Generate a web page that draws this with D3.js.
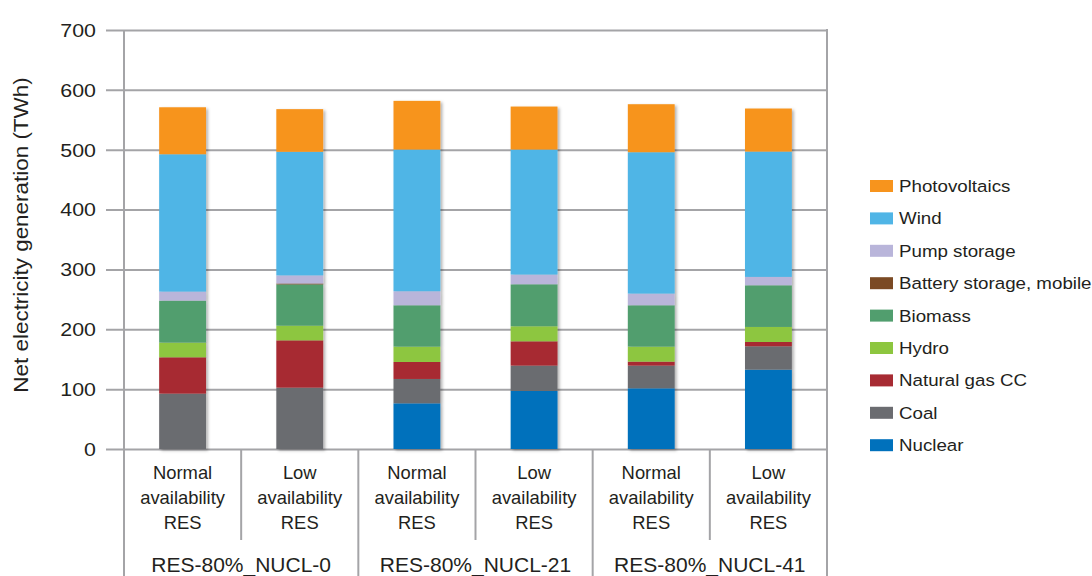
<!DOCTYPE html>
<html>
<head>
<meta charset="utf-8">
<script src="https://cdn.jsdelivr.net/npm/d3@7"></script>
<style>
  html, body { margin: 0; padding: 0; background: #fff; }
  svg { display: block; font-family: "Liberation Sans", Arial, sans-serif; }
</style>
</head>
<body>
<svg id="chart" width="1092" height="576"></svg>
<script>
// ---- Data ----
const scenarios = ["RES-80%_NUCL-0", "RES-80%_NUCL-21", "RES-80%_NUCL-41"];
const availability = ["Normal availability RES", "Low availability RES"];
const barIds = ["N0-normal", "N0-low", "N21-normal", "N21-low", "N41-normal", "N41-low"];
const seriesNames = ["Nuclear", "Coal", "Natural gas CC", "Hydro", "Biomass", "Battery storage, mobile", "Pump storage", "Wind", "Photovoltaics"];
const seriesColors = ["#0071bc", "#6b6c70", "#a72b33", "#8dc63f", "#519e6e", "#7b4a24", "#b9b5da", "#50b5e6", "#f7941d"];

const nuclear   = [0,     0,     76.3,  96.9,  101.4, 132.6];
const coal      = [92.5,  102.5, 40.7,  42.4,  37.9,  39.0];
const gas       = [60.7,  79.0,  28.4,  40.6,  6.7,   7.2];
const hydro     = [24.5,  24.5,  25.6,  25.1,  25.0,  25.1];
const biomass   = [70.2,  69.0,  69.1,  70.2,  69.1,  69.6];
const battery   = [0,     1.5,   0,     0,     0,     0];
const pump      = [15.0,  13.5,  23.4,  16.2,  19.5,  14.0];
const wind      = [229.5, 206.5, 236.8, 208.9, 236.2, 209.4];
const pv        = [78.5,  71.3,  81.3,  71.8,  80.2,  71.9];

const yTicks = [0, 100, 200, 300, 400, 500, 600, 700];
const yTitle = "Net electricity generation (TWh)";

(function () {
// ---- Build table ----
const seriesArrays = [nuclear, coal, gas, hydro, biomass, battery, pump, wind, pv];
const table = barIds.map((id, i) => {
  const row = { id };
  seriesNames.forEach((s, k) => row[s] = seriesArrays[k][i]);
  return row;
});

// ---- Layout ----
const svg = d3.select("#chart");
const pLeft = 124, pRight = 827, pTop = 30, pBottom = 449;
const gridColor = "#a4a4a7";
const textColor = "#231f20";
const STRETCH = 1.15;
function stretch(sel) {
  sel.each(function () {
    const w = this.getComputedTextLength();
    d3.select(this).attr("textLength", w * STRETCH).attr("lengthAdjust", "spacingAndGlyphs");
  });
}

const x = d3.scaleBand().domain(barIds).range([pLeft, pRight]).paddingInner(0.6).paddingOuter(0.3);
const y = d3.scaleLinear().domain([0, 700]).range([pBottom, pTop]);
const color = d3.scaleOrdinal().domain(seriesNames).range(seriesColors);

// Filter for subtle shadow
const defs = svg.append("defs");
const f = defs.append("filter").attr("id", "shadow").attr("x", "-20%").attr("y", "-5%").attr("width", "140%").attr("height", "115%");
f.append("feDropShadow").attr("dx", 2).attr("dy", 1.5).attr("stdDeviation", 1.5).attr("flood-color", "#000").attr("flood-opacity", 0.3);

// Gridlines (y axis)
const yAxis = d3.axisLeft(y).tickValues(yTicks).tickSize(-(pRight - 106)).tickPadding(10).tickFormat(d3.format("d"));
const yg = svg.append("g").attr("transform", `translate(106,0)`).call(yAxis);
yg.select(".domain").remove();
yg.selectAll(".tick line").attr("stroke", gridColor).attr("stroke-width", 2);
yg.selectAll(".tick text").attr("fill", textColor).attr("font-size", 18.6).attr("x", -10).attr("dy", "0.34em");
stretch(yg.selectAll(".tick text"));

// Left axis and right border
svg.append("line").attr("x1", pLeft).attr("x2", pLeft).attr("y1", pTop).attr("y2", 576).attr("stroke", gridColor).attr("stroke-width", 2);
svg.append("line").attr("x1", pRight).attr("x2", pRight).attr("y1", pTop - 1).attr("y2", 576).attr("stroke", gridColor).attr("stroke-width", 2);

// Category separators
barIds.forEach((id, i) => {
  if (i === 0) return;
  const sx = x(id) - (x.step() - x.bandwidth()) / 2;
  const long = i % 2 === 0;
  svg.append("line").attr("x1", sx).attr("x2", sx).attr("y1", pBottom).attr("y2", long ? 576 : 540)
    .attr("stroke", gridColor).attr("stroke-width", 2);
});

// Stacked bars
const stacked = d3.stack().keys(seriesNames)(table);
const barsG = svg.append("g").attr("filter", "url(#shadow)");
barsG.selectAll("g").data(stacked).join("g")
  .attr("fill", d => color(d.key))
  .selectAll("rect").data(d => d).join("rect")
  .attr("x", d => x(d.data.id))
  .attr("width", x.bandwidth())
  .attr("y", d => y(d[1]))
  .attr("height", d => Math.max(0, y(d[0]) - y(d[1])));

// Inner category labels
barIds.forEach((id, i) => {
  const lines = availability[i % 2].split(" ");
  const cx = x(id) + x.bandwidth() / 2;
  const t = svg.append("text").attr("text-anchor", "middle").attr("fill", textColor).attr("font-size", 18.4);
  lines.forEach((ln, j) => {
    t.append("tspan").attr("x", cx).attr("y", 478.5 + j * 25.3).text(ln);
  });
});

// Outer scenario labels
scenarios.forEach((s, g) => {
  const cx = (x(barIds[g * 2]) + x(barIds[g * 2 + 1]) + x.bandwidth()) / 2;
  svg.append("text").attr("x", cx).attr("y", 572).attr("text-anchor", "middle")
    .attr("fill", textColor).attr("font-size", 21).text(s);
});

// Y axis title
const title = svg.append("text").attr("transform", `translate(28,235) rotate(-90)`)
  .attr("text-anchor", "middle").attr("fill", textColor).attr("font-size", 19.5).text(yTitle);
stretch(title);

// Legend (top-to-bottom reverse of stack order)
const legendItems = seriesNames.slice().reverse();
const lg = svg.append("g").attr("transform", "translate(870,186)");
legendItems.forEach((name, i) => {
  const row = lg.append("g").attr("transform", `translate(0,${i * 32.4})`);
  row.append("rect").attr("x", 0).attr("y", -6).attr("width", 23).attr("height", 12).attr("fill", color(name));
  const tx = row.append("text").attr("x", 29).attr("y", 6).attr("fill", textColor).attr("font-size", 16.3).text(name);
  stretch(tx);
});
})();
</script>
</body>
</html>
